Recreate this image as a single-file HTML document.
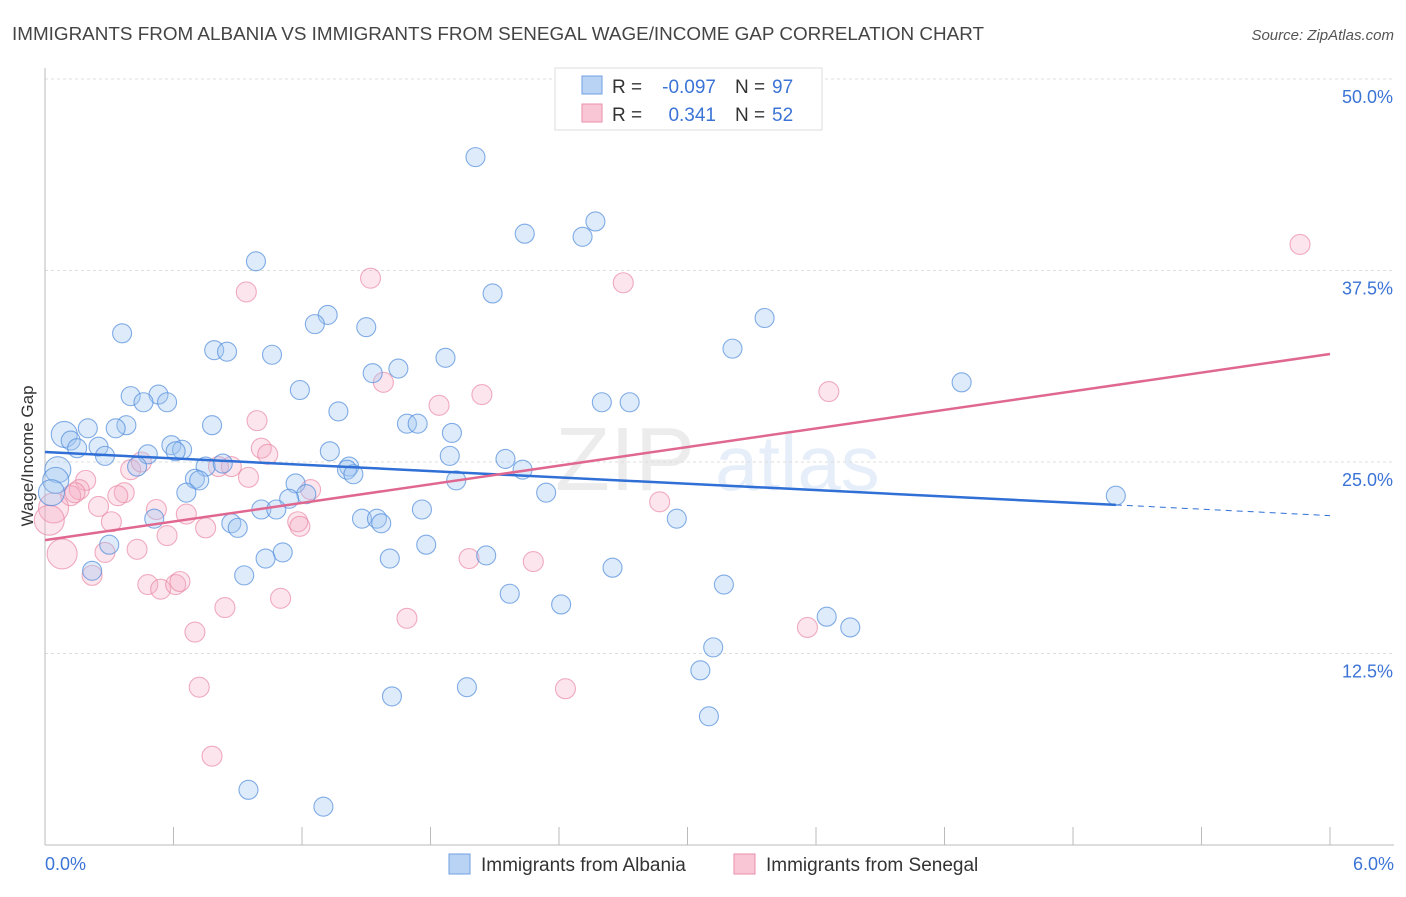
<!DOCTYPE html>
<html><head><meta charset="utf-8"><style>
body{margin:0;background:#fff;font-family:"Liberation Sans",sans-serif}
svg text{font-family:"Liberation Sans",sans-serif}
</style></head><body>
<svg id="chart" width="1406" height="892" xmlns="http://www.w3.org/2000/svg">
<text x="12" y="40" font-size="18" fill="#444" textLength="972" lengthAdjust="spacingAndGlyphs">IMMIGRANTS FROM ALBANIA VS IMMIGRANTS FROM SENEGAL WAGE/INCOME GAP CORRELATION CHART</text>
<text x="1394" y="40" font-size="15" fill="#555" text-anchor="end" font-style="italic">Source: ZipAtlas.com</text>
<g opacity="0.13">
<text x="555" y="490" font-size="90" font-family="Liberation Serif" fill="#777">ZIP</text>
<text x="715" y="490" font-size="78" fill="#4a7fd6">atlas</text>
</g>
<g id="grid"></g>
<g id="axes"></g>
<g id="pts"></g>
<g id="trends"></g>
<text transform="translate(33,456) rotate(-90)" font-size="17" fill="#333" text-anchor="middle">Wage/Income Gap</text>
<g>
<rect x="555" y="68" width="267" height="62" fill="#fff" stroke="#ddd"/>
<rect x="582" y="76" width="20" height="18" fill="#b9d3f5" stroke="#6f9fe0"/>
<rect x="582" y="104" width="20" height="18" fill="#f9c6d5" stroke="#ea8fab"/>
<text x="612" y="93" font-size="19" fill="#333">R =</text>
<text x="716" y="93" font-size="19" fill="#3b74d6" text-anchor="end">-0.097</text>
<text x="735" y="93" font-size="19" fill="#333">N =</text>
<text x="772" y="93" font-size="19" fill="#3b74d6">97</text>
<text x="612" y="121" font-size="19" fill="#333">R =</text>
<text x="716" y="121" font-size="19" fill="#3b74d6" text-anchor="end">0.341</text>
<text x="735" y="121" font-size="19" fill="#333">N =</text>
<text x="772" y="121" font-size="19" fill="#3b74d6">52</text>
</g>
<g>
<rect x="449" y="854" width="21" height="20" fill="#b9d3f5" stroke="#6f9fe0"/>
<text x="481" y="871" font-size="19" fill="#333">Immigrants from Albania</text>
<rect x="734" y="854" width="21" height="20" fill="#f9c6d5" stroke="#ea8fab"/>
<text x="766" y="871" font-size="19" fill="#333">Immigrants from Senegal</text>
</g>
</svg>
<script>
const xTicks=[0,0.6,1.2,1.8,2.4,3.0,3.6,4.2,4.8,5.4,6.0];
const yTicks=[12.5,25,37.5,50];
const yTickLabels=["12.5%","25.0%","37.5%","50.0%"];
const albaniaX=[2.01,0.985,2.24,2.51,2.57,2.09,0.36,1.32,1.26,1.50,0.79,0.85,1.06,1.87,1.65,1.53,3.21,3.36,4.28,1.19,0.40,0.53,0.46,0.57,1.37,2.60,2.73,0.38,0.33,0.20,0.09,0.12,0.25,0.15,0.28,0.78,0.59,0.64,0.61,0.48,0.43,1.69,1.74,1.90,1.33,1.89,2.15,1.42,1.41,2.23,1.44,0.75,0.83,0.70,0.72,0.06,0.05,0.03,0.66,1.17,1.22,1.14,1.92,2.34,1.01,1.08,1.76,0.51,0.87,0.90,1.48,1.55,1.57,2.95,0.30,1.78,1.11,1.03,1.61,2.06,0.22,0.93,2.65,3.17,2.17,2.41,3.65,3.76,3.12,3.06,1.97,1.62,3.10,0.95,1.30,5.00];
const albaniaY=[44.9,38.1,39.9,39.7,40.7,36.0,33.4,34.6,34.0,33.8,32.3,32.2,32.0,31.8,31.1,30.8,32.4,34.4,30.2,29.7,29.3,29.4,28.9,28.9,28.3,28.9,28.9,27.4,27.2,27.2,26.8,26.4,26.0,25.9,25.4,27.4,26.1,25.8,25.7,25.5,24.7,27.5,27.5,26.9,25.7,25.4,25.2,24.7,24.5,24.5,24.2,24.7,24.9,23.9,23.8,24.5,23.8,23.0,23.0,23.6,22.9,22.6,23.8,23.0,21.9,21.9,21.9,21.3,21.0,20.7,21.3,21.3,21.0,21.3,19.6,19.6,19.1,18.7,18.7,18.9,17.9,17.6,18.1,17.0,16.4,15.7,14.9,14.2,12.9,11.4,10.3,9.7,8.4,3.6,2.5,22.8];
const senegalX=[5.86,1.52,2.70,0.94,1.58,2.04,3.66,1.84,0.99,1.01,1.04,0.81,0.87,0.95,0.40,0.45,0.19,0.16,0.12,0.14,0.37,0.34,1.24,0.25,0.04,0.02,0.52,0.66,1.18,1.19,0.31,0.57,0.75,2.87,0.43,0.28,0.08,1.98,2.28,0.22,0.48,0.54,0.61,0.63,1.10,0.84,1.69,3.56,0.70,0.72,2.43,0.78];
const senegalY=[39.2,37.0,36.7,36.1,30.2,29.4,29.6,28.7,27.7,25.9,25.5,24.7,24.7,24.0,24.5,25.0,23.8,23.2,22.8,23.0,23.0,22.8,23.2,22.1,22.0,21.2,21.9,21.6,21.1,20.8,21.1,20.2,20.7,22.4,19.3,19.1,19.0,18.7,18.5,17.6,17.0,16.7,17.0,17.2,16.1,15.5,14.8,14.2,13.9,10.3,10.2,5.8];
const albaniaTrend=[25.65,22.2,21.5];
const senegalTrend=[19.9,32.05];
const NS="http://www.w3.org/2000/svg";
const X=v=>45+v/6*1285, Y=v=>845-v*15.32;
function mk(tag,attrs,parent){const e=document.createElementNS(NS,tag);for(const k in attrs)e.setAttribute(k,attrs[k]);parent.appendChild(e);return e;}
const grid=document.getElementById('grid'),axes=document.getElementById('axes');
yTicks.forEach((t,i)=>{const g=mk('line',{x1:45,x2:1394,y1:Y(t),y2:Y(t),stroke:'#ddd','stroke-dasharray':'3,3'},grid);


const l=mk('text',{x:1393,y:Y(t)+24,'font-size':18,fill:'#3b74d6','text-anchor':'end'},axes);l.textContent=yTickLabels[i];

});
mk('line',{x1:45,x2:45,y1:68,y2:845,stroke:'#bbb'},axes);
mk('line',{x1:45,x2:1394,y1:845,y2:845,stroke:'#bbb'},axes);
xTicks.forEach(t=>{const tk=mk('line',{x1:X(t),x2:X(t),y1:827,y2:845,stroke:'#bbb'},axes);

});
const xl0=mk('text',{x:45,y:870,'font-size':18,fill:'#3b74d6'},axes);xl0.textContent='0.0%';


const xl1=mk('text',{x:1394,y:870,'font-size':18,fill:'#3b74d6','text-anchor':'end'},axes);xl1.textContent='6.0%';


const pts=document.getElementById('pts');
senegalX.forEach((x,i)=>{const r=(x<0.1)?15:10;const c=mk('circle',{cx:X(x),cy:Y(senegalY[i]),r:r,fill:'rgba(244,170,195,0.3)',stroke:'rgba(232,130,160,0.65)','stroke-width':1.1},pts);

});
albaniaX.forEach((x,i)=>{const r=(x<0.1)?13:9.5;const c=mk('circle',{cx:X(x),cy:Y(albaniaY[i]),r:r,fill:'rgba(160,198,242,0.35)',stroke:'rgba(80,140,220,0.7)','stroke-width':1.1},pts);

});
const tr=document.getElementById('trends');
const a1=mk('line',{x1:X(0),y1:Y(albaniaTrend[0]),x2:X(5.0),y2:Y(albaniaTrend[1]),stroke:'#2f6fd6','stroke-width':2.5},tr);


const a2=mk('line',{x1:X(5.0),y1:Y(albaniaTrend[1]),x2:X(6),y2:Y(albaniaTrend[2]),stroke:'#2f6fd6','stroke-width':1,'stroke-dasharray':'6,5'},tr);


const s1=mk('line',{x1:X(0),y1:Y(senegalTrend[0]),x2:X(6),y2:Y(senegalTrend[1]),stroke:'#e06890','stroke-width':2.5},tr);


</script>
</body></html>
